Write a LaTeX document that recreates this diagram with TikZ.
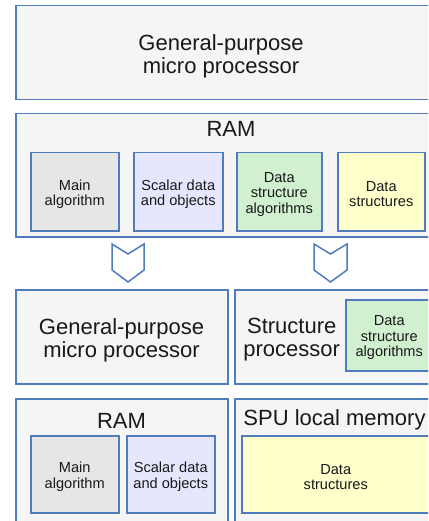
\documentclass[tikz,border=0pt]{standalone}
\usepackage{fontspec}
\setmainfont{Liberation Sans}
\definecolor{bordc}{RGB}{78,124,188}
\definecolor{outerfill}{RGB}{245,245,245}
\definecolor{grayfill}{RGB}{230,230,230}
\definecolor{bluefill}{RGB}{230,230,255}
\definecolor{greenfill}{RGB}{208,240,208}
\definecolor{yellowfill}{RGB}{255,255,204}
\tikzset{
  boxbase/.style={draw=bordc, line width=1.5pt, rectangle, inner sep=0pt, anchor=north west, align=center},
  outerbox/.style={boxbase, fill=outerfill},
  bigtext/.style={font=\fontsize{22}{23}\selectfont, align=center, inner sep=0pt, text=black!90},
  smalltext/.style={font=\fontsize{14.6}{15.3}\selectfont, align=center, inner sep=0pt, text=black!90},
  inlabel/.style={label={[smalltext, yshift=-2.5pt]center:{#1}}},
  graybox/.style={boxbase, fill=grayfill},
  bluebox/.style={boxbase, fill=bluefill},
  greenbox/.style={boxbase, fill=greenfill},
  yellowbox/.style={boxbase, fill=yellowfill},
  chev/.style={draw=bordc, line width=1.5pt, fill=white, line join=miter}
}
\begin{document}
\begin{tikzpicture}[x=1pt, y=-1pt]
\useasboundingbox (0,0) rectangle (428,521);
\clip (0,0) rectangle (428,521);
\fill[white] (0,0) rectangle (428,521);
% top processor
\node[outerbox, minimum width=430pt, minimum height=94pt] (gp1) at (15,5) {};
\node[bigtext] (gp1t) at (221,56) {General-purpose\\micro processor};
% RAM row
\node[outerbox, minimum width=430pt, minimum height=123pt] (ram1) at (15,113) {};
\node[bigtext] (ram1t) at (231,128.5) {RAM};
\node[graybox, minimum width=88pt, minimum height=78pt, inlabel={Main\\algorithm}] (ma1) at (30,152) {};
\node[bluebox, minimum width=89pt, minimum height=78pt, inlabel={Scalar data\\and objects}] (sd1) at (133,152) {};
\node[greenbox, minimum width=85pt, minimum height=78pt, inlabel={Data\\structure\\algorithms}] (dsa1) at (236,152) {};
\node[yellowbox, minimum width=87pt, minimum height=78pt, inlabel={Data\\structures}] (ds1) at (337,152) {};
% chevrons
\draw[chev] (112,244) -- (128,254) -- (144,244) -- (144,270) -- (128,282) -- (112,270) -- cycle;
\draw[chev] (314,244) -- (330.5,254) -- (347,244) -- (347,270) -- (330.5,282) -- (314,270) -- cycle;
% middle row
\node[outerbox, minimum width=212pt, minimum height=94pt] (gp2) at (15,289) {};
\node[bigtext] (gp2t) at (121.5,340) {General-purpose\\micro processor};
\node[outerbox, minimum width=220pt, minimum height=94pt] (sp) at (234,289) {};
\node[bigtext] (spt) at (291.7,340) {Structure\\processor};
\node[greenbox, minimum width=87pt, minimum height=71pt, inlabel={Data\\structure\\algorithms}] (dsa2) at (345,299) {};
% bottom row
\node[outerbox, minimum width=212pt, minimum height=140pt] (ram2) at (15,398) {};
\node[bigtext] (ram2t) at (121.5,421) {RAM};
\node[graybox, minimum width=88pt, minimum height=77pt, inlabel={Main\\algorithm}] (ma2) at (30,435) {};
\node[bluebox, minimum width=88pt, minimum height=77pt, inlabel={Scalar data\\and objects}] (sd2) at (126,435) {};
\node[outerbox, minimum width=220pt, minimum height=140pt] (spu) at (234,398) {};
\node[bigtext] (sput) at (334.5,419.5) {SPU local memory};
\node[yellowbox, minimum width=188pt, minimum height=77pt, inlabel={Data\\structures}] (ds2) at (241,435) {};
\end{tikzpicture}
\end{document}
